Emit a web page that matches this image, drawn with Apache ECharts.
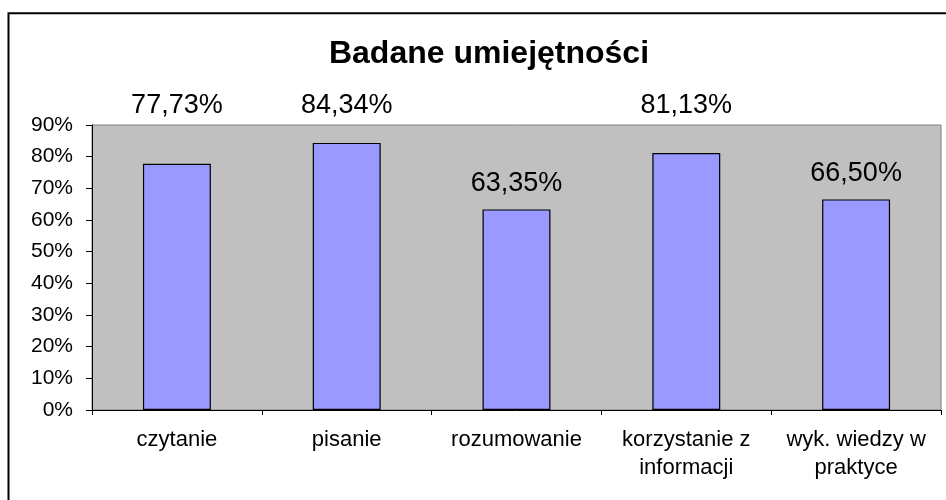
<!DOCTYPE html>
<html>
<head>
<meta charset="utf-8">
<script src="https://cdn.jsdelivr.net/npm/echarts@6/dist/echarts.min.js"></script>
<style>
html,body{margin:0;padding:0;background:#fff;}
#chart{width:946px;height:500px;}
</style>
</head>
<body>
<div id="chart"></div>
<script>
var titleText = 'Badane umiejętności';
var categories = ['czytanie', 'pisanie', 'rozumowanie', 'korzystanie z\ninformacji', 'wyk. wiedzy w\npraktyce'];
var values = [77.73, 84.34, 63.35, 81.13, 66.50];
var yTicks = [0, 10, 20, 30, 40, 50, 60, 70, 80, 90];

var FONT = 'Liberation Sans, Arial, sans-serif';
var chart = echarts.init(document.getElementById('chart'), null, {renderer: 'canvas'});

function fmt(v) { return v.toFixed(2).replace('.', ',') + '%'; }

var option = {
  animation: false,
  backgroundColor: '#ffffff',
  title: {
    text: titleText,
    left: 484,
    top: 33,
    textAlign: 'center',
    textStyle: {fontFamily: FONT, fontSize: 32, fontWeight: 'bold', color: '#000'}
  },
  graphic: [{
    type: 'rect',
    shape: {x: 8.5, y: 13.3, width: 1000, height: 1000},
    style: {fill: null, stroke: '#000', lineWidth: 2},
    silent: true
  }],
  grid: {
    left: 92, top: 125, right: 5, bottom: 90,
    show: true, backgroundColor: '#C0C0C0', borderColor: '#808080', borderWidth: 1
  },
  xAxis: {
    type: 'category',
    data: categories,
    boundaryGap: true,
    axisLine: {lineStyle: {color: '#000', width: 1}},
    axisTick: {show: true, length: 5, lineStyle: {color: '#000'}},
    axisLabel: {fontFamily: FONT, fontSize: 22, color: '#000', margin: 16, lineHeight: 28, interval: 0}
  },
  yAxis: {
    type: 'value',
    min: yTicks[0], max: yTicks[yTicks.length - 1], interval: yTicks[1] - yTicks[0],
    splitLine: {show: false},
    axisLine: {show: true, lineStyle: {color: '#000', width: 1}},
    axisTick: {show: true, length: 6, lineStyle: {color: '#000'}},
    axisLabel: {fontFamily: FONT, fontSize: 21, color: '#000', margin: 19, formatter: '{value}%'}
  },
  series: [{
    type: 'bar',
    data: values,
    barWidth: '40%',
    itemStyle: {color: '#9999FF', borderColor: '#000', borderWidth: 1.2},
    label: {
      show: true, position: 'top', distance: 12,
      fontFamily: FONT, fontSize: 27, color: '#000',
      formatter: function (p) { return fmt(p.value); }
    }
  }]
};
chart.setOption(option);

// Labels that would crowd the top of the plot area are lifted above it
var plotTop = chart.convertToPixel({gridIndex: 0}, [0, yTicks[yTicks.length - 1]])[1];
var data = values.map(function (v, i) {
  var barTop = chart.convertToPixel({gridIndex: 0}, [i, v])[1];
  var naturalCenter = barTop - 12 - 13.5;
  var item = {value: v};
  if (naturalCenter - 13 < plotTop + 5) {
    var target = plotTop - 19;
    item.label = {offset: [0, target - naturalCenter]};
  }
  return item;
});
chart.setOption({series: [{data: data}]});
</script>
</body>
</html>
